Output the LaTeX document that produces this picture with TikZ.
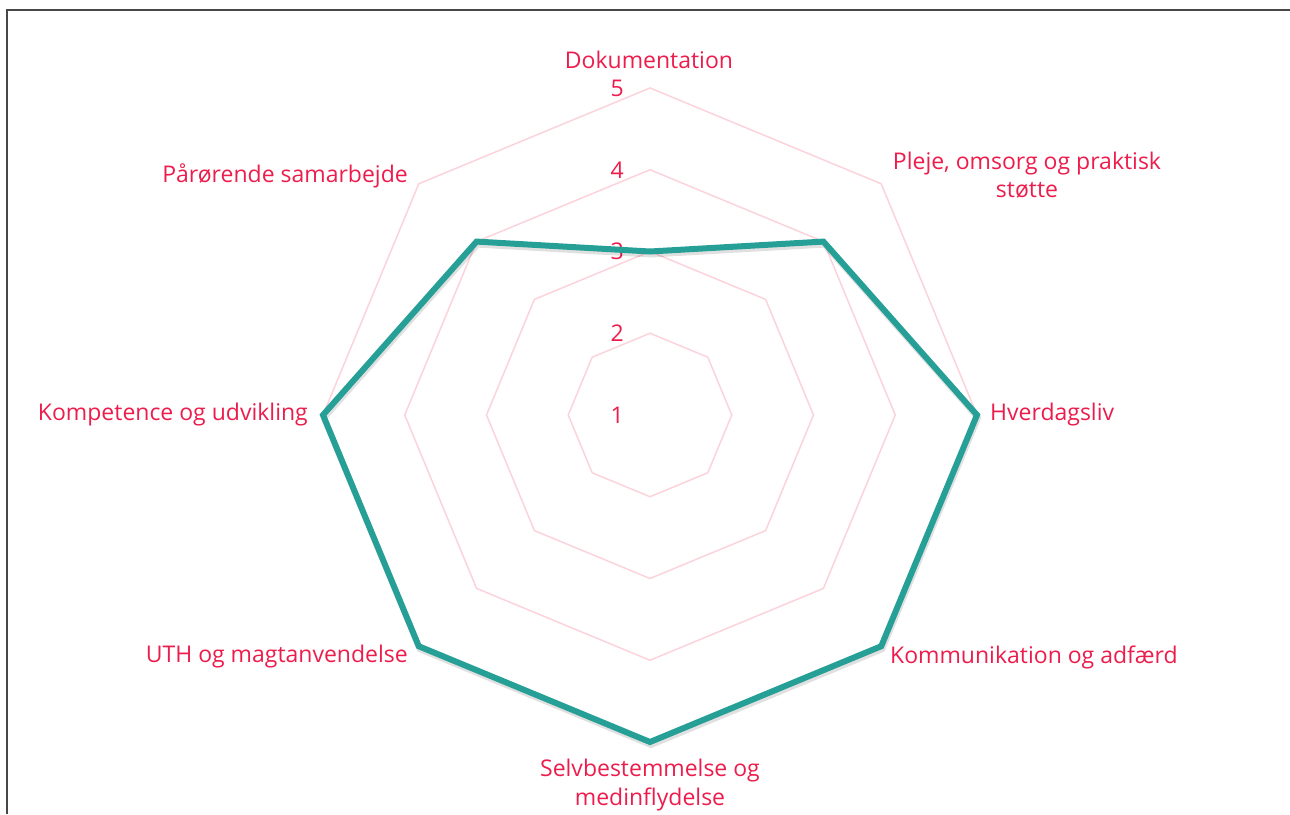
\documentclass[tikz,border=0pt]{standalone}
\usepackage{fontspec}
\setmainfont{Open Sans}
\definecolor{labelred}{HTML}{EC1D4C}
\definecolor{gridpink}{HTML}{FBD3DB}
\definecolor{scoreteal}{HTML}{26A096}
\begin{document}
\begin{tikzpicture}[
                x=1pt, y=1pt,
                grid ring/.style = {draw=gridpink, line width=1.5pt},
                score line/.style = {draw=scoreteal, line width=6pt, line join=miter},
                axis label/.style = {text=labelred, font=\fontsize{23}{28.5}\selectfont, inner sep=0pt, align=center},
                level label/.style = {text=labelred, font=\fontsize{23}{28}\selectfont, inner sep=0pt, anchor=east},
            ]
            \useasboundingbox (-650,-399) rectangle (640,415);
            \draw[line width=2pt, draw=black!72] (-643,-399) -- (-643,405) -- (640,405);
            % rings for levels 2 to 5
            \foreach \r in {1,...,4}
                \draw[grid ring] (90:{\r*81.75}) \foreach \a in {135,180,...,405} {-- (\a:{\r*81.75})} -- cycle;
            \foreach \k in {1,...,5}
                \node[level label] (lvl\k) at (-26,{(\k-1)*81.75}) {\k};
            % scores
            \foreach \a/\s [count=\i] in {
            {90/3}, {45/4}, {0/5}, {-45/5}, {-90/5}, {-135/5}, {180/5}, {135/4}}
                \coordinate (p\i) at (\a:{(\s-1)*81.75});
            \draw[score line, draw=black, opacity=0.12, transform canvas={xshift=1pt, yshift=-3pt}]
                (p1) -- (p2) -- (p3) -- (p4) -- (p5) -- (p6) -- (p7) -- (p8) -- cycle;
            \draw[score line] (p1) -- (p2) -- (p3) -- (p4) -- (p5) -- (p6) -- (p7) -- (p8) -- cycle;
            % axis labels
            \node[axis label] (dok) at (-1,355) {Dokumentation};
            \node[axis label] (pleje) at (377,240) {Pleje, omsorg og praktisk\\støtte};
            \node[axis label, anchor=west] (hverdag) at (340,0) {Hverdagsliv};
            \node[axis label, anchor=west] (komm) at (240,-242) {Kommunikation og adfærd};
            \node[axis label] (selv) at (0,-370) {Selvbestemmelse og\\medinflydelse};
            \node[axis label, anchor=east] (uth) at (-242,-242) {UTH og magtanvendelse};
            \node[axis label, anchor=east] (komp) at (-342,0) {Kompetence og udvikling};
            \node[axis label, anchor=east] (paar) at (-242,239) {Pårørende samarbejde};
        \end{tikzpicture}
\end{document}
